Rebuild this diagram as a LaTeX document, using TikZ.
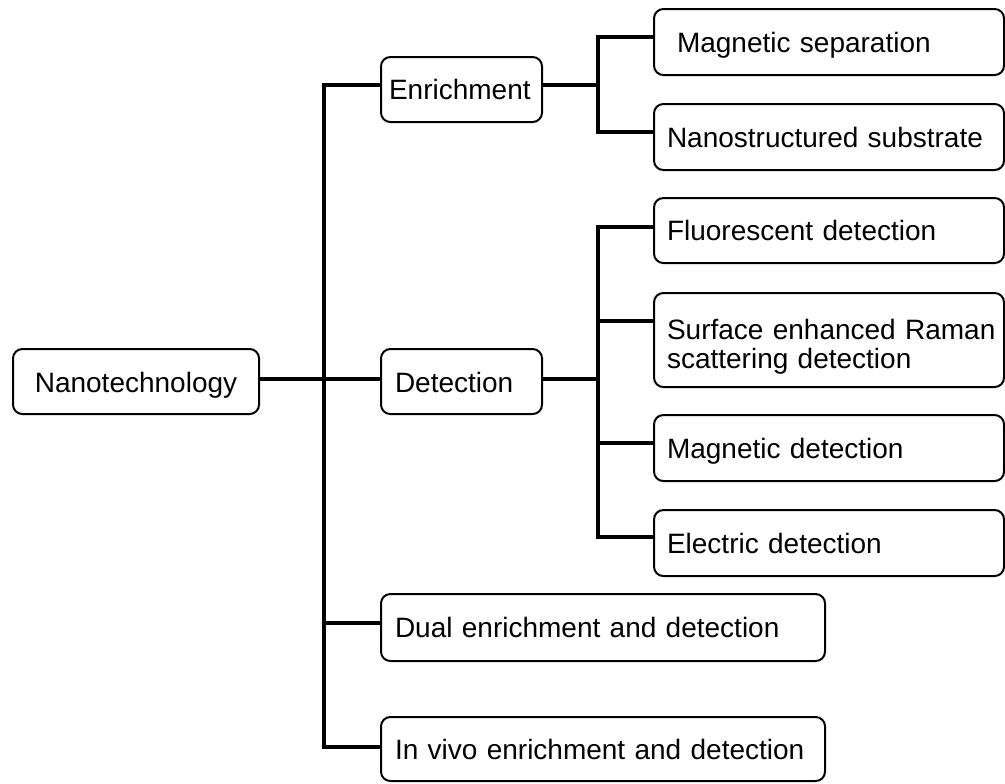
\documentclass[tikz,border=0pt]{standalone}
\usepackage{fontspec}
\setmainfont{Liberation Sans}
\begin{document}
\begin{tikzpicture}[x=0.75pt,y=-0.75pt,
  box/.style={draw=black, line width=1.5pt, rounded corners=7pt, fill=white,
    font=\fontsize{21pt}{21.75pt}\selectfont, inner ysep=0pt, outer sep=0pt},
  oneline/.style={text height=15.1pt, text depth=0pt},
  lowline/.style={text height=17.2pt, text depth=0pt},
  leaf/.style={box, inner xsep=9.75pt, text width=243pt, align=left, minimum width=262.5pt},
  wide/.style={box, oneline, inner xsep=10.5pt, text width=312pt, align=left, minimum width=333pt},
  conn/.style={draw=black, line width=2.3pt, line join=miter}]
\useasboundingbox (0,0) rectangle (1005,783);

% root and first level
\node[box, lowline, align=center, minimum width=184.5pt, minimum height=48.75pt] (nano) at (136,381.5) {Nanotechnology};
\node[box, oneline, inner xsep=6pt, text width=108.75pt, align=left, minimum width=120.75pt, minimum height=48.75pt] (enr) at (461.5,89.5) {Enrichment};
\node[box, lowline, inner xsep=10.5pt, text width=99.75pt, align=left, minimum width=120.75pt, minimum height=48.75pt] (det) at (461.5,381.5) {Detection};
\node[wide, minimum height=50.25pt] (dual) at (603,627.5) {Dual enrichment and detection};
\node[wide, minimum height=48pt] (invivo) at (603,749) {In vivo enrichment and detection};

% leaves
\node[leaf, oneline, minimum height=49.5pt] (magsep) at (829,42) {\hspace*{7.5pt}Magnetic separation};
\node[leaf, oneline, minimum height=49.5pt] (nanos) at (829,137) {Nanostructured substrate};
\node[leaf, oneline, minimum height=48.75pt] (fluor) at (829,230.5) {Fluorescent detection};
\node[leaf, minimum height=70.5pt] (sers) at (829,340) {\rule{0pt}{26pt}\mbox{Surface enhanced Raman}\\scattering detection};
\node[leaf, oneline, minimum height=49.5pt] (magdet) at (829,448) {Magnetic detection};
\node[leaf, oneline, minimum height=49.5pt] (elec) at (829,543) {Electric detection};

% junction coordinates
\coordinate (mt) at (324,85);
\coordinate (mdet) at (324,379);
\coordinate (mdual) at (324,623);
\coordinate (mb) at (324,747);
\coordinate (es) at (598,85);
\coordinate (e1) at (598,37);
\coordinate (e2) at (598,132);
\coordinate (ds) at (598,379);
\coordinate (d1) at (598,227);
\coordinate (d3) at (598,321);
\coordinate (d4) at (598,443);
\coordinate (d2) at (598,537);

% main trunk
\draw[conn] (enr.west |- mt) -- (mt) -- (mb) -- (invivo.west |- mb);
\draw[conn] (nano.east |- mdet) -- (det.west |- mdet);
\draw[conn] (mdual) -- (dual.west |- mdual);

% enrichment branch
\draw[conn] (enr.east |- es) -- (es);
\draw[conn] (magsep.west |- e1) -- (e1) -- (e2) -- (nanos.west |- e2);

% detection branch
\draw[conn] (det.east |- ds) -- (ds);
\draw[conn] (fluor.west |- d1) -- (d1) -- (d2) -- (elec.west |- d2);
\draw[conn] (d3) -- (sers.west |- d3);
\draw[conn] (d4) -- (magdet.west |- d4);
\end{tikzpicture}
\end{document}
